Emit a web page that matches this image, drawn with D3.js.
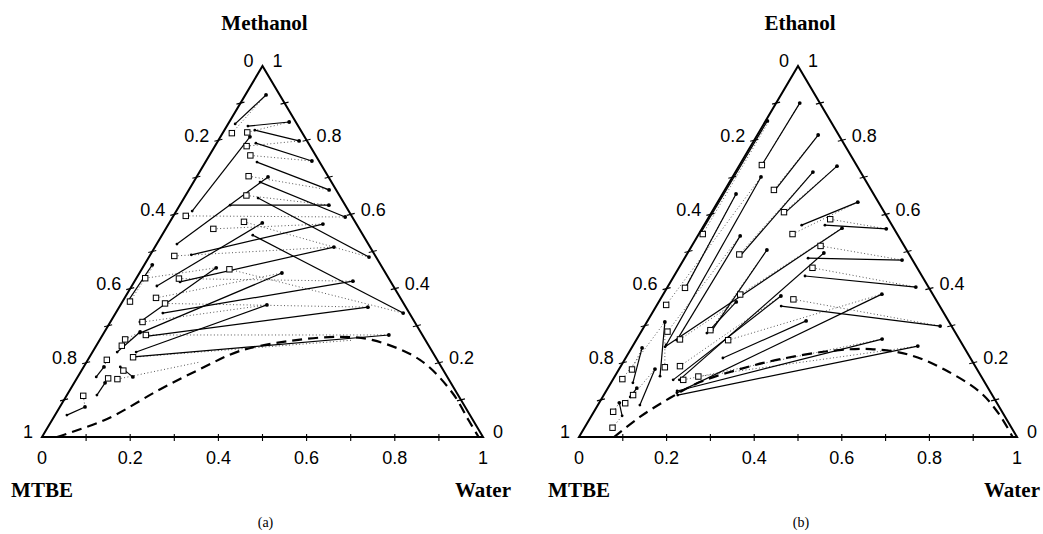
<!DOCTYPE html>
<html><head><meta charset="utf-8">
<script src="https://cdn.jsdelivr.net/npm/d3@7"></script>
<style>body{margin:0;background:#fff}</style>
</head><body>
<svg id="c" width="1043" height="534"></svg>
<script>
// ---- data (ternary fractions: [water, alcohol]; MTBE = 1 - water - alcohol) ----
const minorTicks = [0.1,0.2,0.3,0.4,0.5,0.6,0.7,0.8,0.9];
const labelValues = [0,0.2,0.4,0.6,0.8,1];
const labelText = ["0","0.2","0.4","0.6","0.8","1"];
const alcoholNames = ["Methanol","Ethanol"];
const cornerNames = ["MTBE","Water"];
const panelTags = ["(a)","(b)"];

// Methanol system: experimental tie lines (ends A and B)
const methExpA = [[0.016,0.844],[0.048,0.838],[0.069,0.827],[0.036,0.609],[0.089,0.792],[0.117,0.741],[0.046,0.520],[0.151,0.687],[0.114,0.625],[0.168,0.644],[0.093,0.491],[0.057,0.407],[0.104,0.418],[0.206,0.544],[0.067,0.310],[0.082,0.280],[0.107,0.334],[0.099,0.229],[0.104,0.272],[0.099,0.216],[0.012,0.369],[0.056,0.229],[0.042,0.162],[0.068,0.113],[0.027,0.059],[0.083,0.189]];
const methExpB = [[0.047,0.922],[0.136,0.849],[0.184,0.798],[0.067,0.809],[0.240,0.744],[0.318,0.666],[0.162,0.701],[0.391,0.593],[0.338,0.625],[0.499,0.485],[0.350,0.574],[0.211,0.577],[0.406,0.512],[0.652,0.334],[0.167,0.456],[0.323,0.442],[0.495,0.420],[0.332,0.356],[0.564,0.350],[0.649,0.275],[0.018,0.464],[0.081,0.283],[0.046,0.189],[0.070,0.146],[0.057,0.081],[0.125,0.162]];
// Methanol system: calculated tie lines (square end A, other end B)
const methCalcA = [[0.021,0.819],[0.055,0.821],[0.072,0.784],[0.093,0.759],[0.117,0.703],[0.138,0.651],[0.168,0.580],[0.108,0.561],[0.028,0.596],[0.199,0.452],[0.056,0.488],[0.097,0.427],[0.099,0.360],[0.071,0.375],[0.098,0.275],[0.073,0.310],[0.099,0.215],[0.017,0.365],[0.020,0.428],[0.057,0.263],[0.093,0.156],[0.071,0.158],[0.043,0.208],[0.038,0.111],[0.095,0.179],[0.058,0.246]];
const methCalcB = [[0.047,0.922],[0.136,0.849],[0.184,0.798],[0.240,0.744],[0.318,0.666],[0.338,0.625],[0.499,0.485],[0.350,0.574],[0.391,0.593],[0.652,0.334],[0.406,0.512],[0.495,0.420],[0.564,0.350],[0.323,0.442],[0.649,0.275],[0.332,0.356],[0.574,0.261],[0.022,0.464],[0.167,0.456],[0.081,0.283],[0.257,0.202],[0.070,0.146],[0.046,0.189],[0.057,0.081],[0.125,0.162],[0.081,0.283]];
const methBinodal = [[0.034,0],[0.125,0.050],[0.200,0.125],[0.268,0.184],[0.333,0.232],[0.433,0.259],[0.541,0.270],[0.620,0.261],[0.753,0.208],[0.870,0.120],[0.945,0.045],[0.990,0.0]];

// Ethanol system
const ethExpA = [[0.051,0.733],[0.003,0.550],[0.115,0.666],[0.124,0.488],[0.168,0.604],[0.075,0.248],[0.042,0.404],[0.093,0.261],[0.223,0.571],[0.276,0.571],[0.075,0.243],[0.160,0.288],[0.152,0.154],[0.282,0.482],[0.299,0.434],[0.164,0.119],[0.285,0.353],[0.138,0.154],[0.222,0.213],[0.162,0.124],[0.169,0.113],[0.152,0.280],[0.103,0.164],[0.096,0.086],[0.050,0.146],[0.070,0.057],[0.063,0.108]];
const ethExpB = [[0.054,0.900],[0.004,0.852],[0.139,0.814],[0.177,0.714],[0.224,0.730],[0.065,0.701],[0.031,0.655],[0.097,0.542],[0.320,0.633],[0.421,0.561],[0.319,0.563],[0.177,0.504],[0.311,0.496],[0.499,0.477],[0.567,0.404],[0.499,0.385],[0.675,0.299],[0.271,0.380],[0.362,0.313],[0.560,0.264],[0.651,0.245],[0.177,0.364],[0.041,0.310],[0.082,0.183],[0.024,0.240],[0.046,0.092],[0.066,0.132]];
const ethCalcA = [[0.051,0.733],[0.112,0.666],[0.165,0.606],[0.120,0.492],[0.214,0.547],[0.280,0.587],[0.294,0.515],[0.305,0.456],[0.009,0.547],[0.041,0.402],[0.304,0.371],[0.176,0.384],[0.156,0.288],[0.210,0.261],[0.021,0.356],[0.060,0.284],[0.099,0.263],[0.102,0.188],[0.135,0.191],[0.161,0.154],[0.191,0.163],[0.030,0.182],[0.021,0.156],[0.067,0.113],[0.060,0.091],[0.044,0.068],[0.064,0.025]];
const ethCalcB = [[0.054,0.900],[0.139,0.814],[0.224,0.730],[0.177,0.714],[0.320,0.633],[0.421,0.561],[0.499,0.477],[0.567,0.404],[0.008,0.852],[0.031,0.655],[0.675,0.299],[0.319,0.563],[0.177,0.504],[0.499,0.385],[0.065,0.701],[0.097,0.542],[0.177,0.364],[0.041,0.310],[0.271,0.380],[0.560,0.264],[0.651,0.245],[0.024,0.240],[0.041,0.310],[0.082,0.183],[0.066,0.132],[0.046,0.092],[0.070,0.057]];
const ethBinodal = [[0.080,0],[0.112,0.054],[0.155,0.105],[0.202,0.148],[0.276,0.183],[0.355,0.210],[0.459,0.232],[0.547,0.237],[0.645,0.221],[0.745,0.181],[0.855,0.121],[0.930,0.060],[0.990,0.0]];

// ---- drawing ----
const svg = d3.select("#c");
const NUM_FONT = "'Liberation Sans', Arial, sans-serif";
const TITLE_FONT = "'Liberation Serif', 'Times New Roman', serif";
const SVG_W = 1043;

function drawPanel(left, width, alcohol, tag, expA, expB, calcA, calcB, binodal) {
  const baseY = 437, apexY = 66;
  const xs = d3.scaleLinear().domain([0,1]).range([left, left + width]);
  const ys = d3.scaleLinear().domain([0,1]).range([baseY, apexY]);
  const P = d => [xs(d[0] + d[1] / 2), ys(d[1])];
  const g = svg.append("g");

  // calculated tie lines (dotted)
  g.selectAll("line.calc").data(calcA).enter().append("line")
    .attr("x1", d => P(d)[0]).attr("y1", d => P(d)[1])
    .attr("x2", (d,i) => P(calcB[i])[0]).attr("y2", (d,i) => P(calcB[i])[1])
    .attr("stroke", "#444").attr("stroke-width", 0.9).attr("stroke-dasharray", "1,2.4");

  // binodal (dashed)
  g.append("path").datum(binodal)
    .attr("d", d3.line().x(d => P(d)[0]).y(d => P(d)[1]).curve(d3.curveCatmullRom.alpha(0.5)))
    .attr("fill", "none").attr("stroke", "#000").attr("stroke-width", 2.2)
    .attr("stroke-dasharray", "10,6");

  // experimental tie lines
  g.selectAll("line.exp").data(expA).enter().append("line")
    .attr("x1", d => P(d)[0]).attr("y1", d => P(d)[1])
    .attr("x2", (d,i) => P(expB[i])[0]).attr("y2", (d,i) => P(expB[i])[1])
    .attr("stroke", "#000").attr("stroke-width", 1.2);
  g.selectAll("circle.a").data(expA).enter().append("circle")
    .attr("cx", d => P(d)[0]).attr("cy", d => P(d)[1]).attr("r", 1.4).attr("fill", "#000");
  g.selectAll("circle.b").data(expB).enter().append("circle")
    .attr("cx", d => P(d)[0]).attr("cy", d => P(d)[1]).attr("r", 1.9).attr("fill", "#000");

  // squares
  g.selectAll("rect.sq").data(calcA).enter().append("rect")
    .attr("x", d => P(d)[0] - 2.7).attr("y", d => P(d)[1] - 2.7)
    .attr("width", 5.4).attr("height", 5.4)
    .attr("fill", "#fff").attr("stroke", "#000").attr("stroke-width", 1);

  // triangle
  const corners = [[0,0],[1,0],[0,1]].map(P);
  g.append("path").attr("d", "M" + corners.join("L") + "Z")
    .attr("fill", "none").attr("stroke", "#000").attr("stroke-width", 2);

  // ticks
  minorTicks.forEach(t => {
    const b = P([t, 0]);
    g.append("line").attr("x1", b[0]).attr("x2", b[0]).attr("y1", b[1] - 3).attr("y2", b[1] + 4)
      .attr("stroke", "#000").attr("stroke-width", 1.1);
    const l = P([0, 1 - t]);
    g.append("line").attr("x1", l[0] - 4).attr("x2", l[0] + 4).attr("y1", l[1] + 1).attr("y2", l[1] - 1)
      .attr("stroke", "#000").attr("stroke-width", 1.1);
    const r = P([1 - t, t]);
    g.append("line").attr("x1", r[0] - 4).attr("x2", r[0] + 4).attr("y1", r[1] + 1).attr("y2", r[1] - 1)
      .attr("stroke", "#000").attr("stroke-width", 1.1);
  });

  // tick labels
  const lab = (x, y, txt, anchor) => g.append("text").attr("x", x).attr("y", y).attr("dy", "0.35em")
    .attr("text-anchor", anchor).attr("font-family", NUM_FONT).attr("font-size", 18).text(txt);
  labelValues.forEach((v, i) => {
    const b = P([v, 0]);
    lab(b[0], b[1] + 21, labelText[i], "middle");
    const l = P([0, 1 - v]);
    lab(l[0] - 9, l[1] - 5, labelText[i], "end");
    const r = P([1 - v, v]);
    lab(r[0] + 10, r[1] - 5, labelText[i], "start");
  });

  // titles
  const top = P([0,1]), bl = P([0,0]), br = P([1,0]);
  const ttl = (x, y, txt, size, weight) => g.append("text").attr("x", x).attr("y", y)
    .attr("text-anchor", "middle").attr("font-family", TITLE_FONT).attr("font-weight", weight)
    .attr("font-size", size).text(txt);
  ttl(top[0] + 2, 30, alcohol, 21, "bold");
  ttl(bl[0], 497, cornerNames[0], 21, "bold");
  const water = ttl(br[0], 497, cornerNames[1], 21, "bold");
  const half = water.node().getComputedTextLength() / 2;
  if (br[0] + half > SVG_W - 3) water.attr("x", SVG_W - 3 - half);
  ttl(top[0] + 3, 527, tag, 14, "normal");
}

drawPanel(42, 441, alcoholNames[0], panelTags[0], methExpA, methExpB, methCalcA, methCalcB, methBinodal);
drawPanel(579, 438, alcoholNames[1], panelTags[1], ethExpA, ethExpB, ethCalcA, ethCalcB, ethBinodal);
</script>
</body></html>
